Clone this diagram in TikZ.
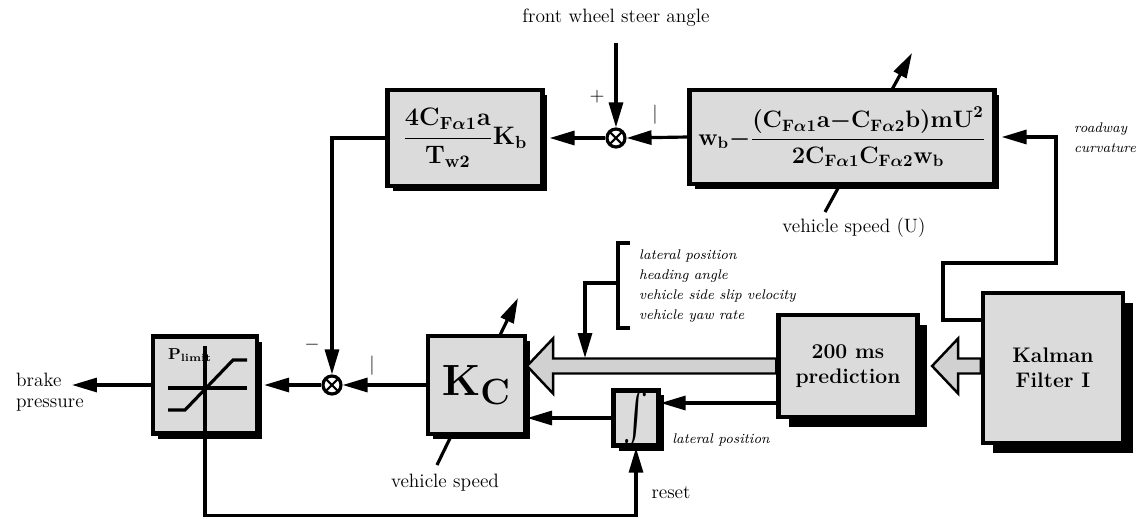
\documentclass[tikz,border=0pt]{standalone}
\usepackage{amsmath}
\usetikzlibrary{positioning,arrows.meta,calc,shadows,backgrounds}
\newcommand{\Cfa}[1]{\mathrm{C}_{\mathrm{F}\alpha#1}}
\newcommand{\fatarrow}[2]{%
  \filldraw[fat] ($(#1)+(0cm,0.15cm)$) -- ($(#2)+(0.52cm,0.15cm)$) -- ($(#2)+(0.52cm,0.55cm)$) -- (#2)
    -- ($(#2)+(0.52cm,-0.55cm)$) -- ($(#2)+(0.52cm,-0.15cm)$) -- ($(#1)+(0cm,-0.15cm)$) -- cycle;}
\tikzset{
  diag/.style={x=0.02cm,y=-0.02cm,on grid,>={Triangle[length=5mm,width=2.8mm]},
    every node/.style={font=\fontsize{11}{12.5}\selectfont}},
  blk/.style={draw,line width=2.4pt,fill=black!14,inner sep=1pt,
    drop shadow={shadow xshift=#1,shadow yshift=-#1,opacity=1,fill=black}},
  blk/.default=0.1cm,
  wire/.style={line width=1.8pt},
  sig/.style={wire,->},
  fat/.style={draw,line width=1.4pt,fill=black!18},
  note/.style={font=\fontsize{8}{11.5}\selectfont\itshape},
  sumnode/.style={circle,draw,line width=1.8pt,minimum size=0.36cm,inner sep=0pt,
    path picture={\draw[line width=1.2pt] (path picture bounding box.north west) -- (path picture bounding box.south east)
      (path picture bounding box.north east) -- (path picture bounding box.south west);}},
}

\begin{document}
\begin{tikzpicture}[diag]
  \useasboundingbox (0,0) rectangle (1145,518);
  % upper loop
  \node[blk,minimum width=3.1cm,minimum height=1.92cm,font=\Large\boldmath] (gainb) at (465,138)
    {$\displaystyle\frac{4\Cfa{1}\mathrm{a}}{\mathrm{T}_{\mathrm{w}2}}\mathrm{K}_{\mathrm{b}}$};
  \node[sumnode] (sum1) [right=3.02cm of gainb] {};
  \node[blk,minimum width=6.1cm,minimum height=1.88cm,inner sep=0pt,font=\Large\boldmath] (curv) at (842,137)
    {\scalebox{0.94}{$\displaystyle\mathrm{w}_{\mathrm{b}}{-}\frac{(\Cfa{1}\mathrm{a}{-}\Cfa{2}\mathrm{b})\mathrm{mU}^2}{2\Cfa{1}\Cfa{2}\mathrm{w}_{\mathrm{b}}}$}};
  \node (steer) [above=2.4cm of sum1] {front wheel steer angle};
  \node (plus) at (597,97) {$+$};
  \node (tick1) at (655,115) {$|$};
  \node (speedU) at (854,228) {vehicle speed (U)};
  \node[note,align=left,anchor=west] (road) at (1068,138) {roadway\\curvature};

  % lower loop
  \node[blk,minimum width=2.08cm,minimum height=1.94cm] (lim) at (205,385) {};
  \node[sumnode] (sum2) [right=2.54cm of lim] {};
  \node[blk,minimum width=1.94cm,minimum height=1.96cm,font=\Huge\boldmath] (kc) [right=2.89cm of sum2] {$\mathrm{K}_{\mathrm{C}}$};
  \node[blk,minimum width=0.9cm,minimum height=1.02cm,inner sep=0pt] (integ) at (636,418) {\resizebox{0.5cm}{0.8cm}{$\int$}};
  \node[blk=0.2cm,minimum width=2.78cm,minimum height=2.04cm,font=\large\bfseries,align=center] (pred) at (848,366) {200 ms\\prediction};
  \node[blk=0.2cm,minimum width=2.8cm,minimum height=3cm,font=\large\bfseries,align=center] (kalman) at (1053,368) {Kalman\\Filter I};
  \node[align=left,anchor=west,font=\fontsize{11}{12}\selectfont] (brake) at (10,392) {brake\\pressure};
  \node (minus) at (312,345) {$-$};
  \node (tick2) at (372,366) {$|$};
  \node (vspeed) at (445,483) {vehicle speed};
  \node (reset) at (671,493) {reset};
  \node[note] (latpos) at (721,440) {lateral position};
  \node[note,align=left,anchor=west] (states) at (633,286)
    {lateral position\\heading angle\\vehicle side slip velocity\\vehicle yaw rate};
  \node[font=\small\boldmath] (plim) at (190,355) {$\mathbf{P}_{\mathbf{limit}}$};

  % limiter curve
  \begin{scope}[shift={(lim.center)},wire]
    \draw (-37,3) -- (42,3);
    \draw (-37,25) -- (-20,25) -- (28,-25) -- (42,-25);
  \end{scope}
  \draw[wire] (lim.south) -- ++(0,-90);

  % adjustable gains
  \coordinate (kclo) at (437,465);
  \coordinate (kchi) at (518,298);
  \coordinate (cvlo) at (825,212);
  \coordinate (cvhi) at (912,53);
  \begin{pgfonlayer}{background}
    \draw[sig] (kclo) -- (kchi);
    \draw[sig] (cvlo) -- (cvhi);
  \end{pgfonlayer}

  % signals
  \draw[sig,shorten <=0.2cm] (steer.south) -- (sum1.north);
  \draw[sig] (curv.west) -- (sum1.east);
  \draw[sig] (sum1.west) -- ([xshift=0.1cm]gainb.east);
  \draw[sig] (gainb.west) -| (sum2.north);
  \draw[sig] (kc.west) -- (sum2.east);
  \draw[sig] (sum2.west) -- ([xshift=0.1cm]lim.east);
  \draw[sig] (lim.west) -- (lim.west -| 72,0);
  \draw[sig] (lim.south) -- ++(0,80) -| (integ.south);
  \draw[sig] (integ.west) -- (kc.east |- integ.west);
  \draw[sig] (pred.west |- 0,403) -- (integ.east |- 0,403);
  \draw[sig] ([yshift=0.96cm]kalman.west) -- ++(-38,0) -- ++(0,-57) -- ++(113,0) |- ([xshift=0.1cm]curv.east);

  % state bundle
  \coordinate (fa1) at (pred.west);
  \coordinate (fa1tip) at (kc.east |- pred.west);
  \coordinate (fa2) at (kalman.west |- pred.east);
  \coordinate (fa2tip) at ($(pred.east)+(0.25cm,0cm)$);
  \fatarrow{fa1}{fa1tip}
  \fatarrow{fa2}{fa2tip}
  \draw[wire] (630,243) -| (618,328) -- (630,328);
  \coordinate (brk) at (618,283);
  \coordinate (fain) at (585,358);
  \draw[sig] (brk) -| (fain);
\end{tikzpicture}
\end{document}
